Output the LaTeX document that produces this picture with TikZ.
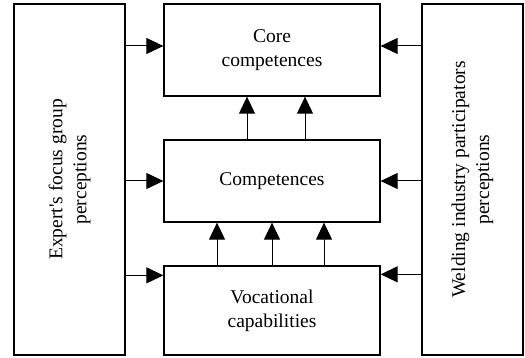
\documentclass[tikz,border=0pt]{standalone}
\usepackage{fontspec}
\setmainfont{Liberation Serif}
\usetikzlibrary{positioning,arrows.meta}

\begin{document}
\begin{tikzpicture}[x=1pt, y=-1pt,
  every node/.style={font=\fontsize{19.5}{24}\selectfont},
  box/.style={draw, line width=1.3pt, align=center, inner sep=0pt},
  arr/.style={line width=1pt, -{Triangle[length=17pt,width=16pt]}}]
  %----- page size (pixel grid, y down) -----
  \useasboundingbox (0,0) rectangle (525,358);

  %----- side boxes -----
  \node[box, minimum width=111pt, minimum height=351pt,
        label={[rotate=90, align=center]center:{Expert\textquotesingle s focus group\\perceptions}}]
        (expert) at (69.5,179.5) {};
  \node[box, minimum width=101pt, minimum height=351pt,
        label={[rotate=90, align=center]center:{Welding industry participators\\perceptions}}]
        (weld) at (472.5,179.5) {};

  %----- middle column -----
  \node[box, minimum width=216pt, minimum height=92pt] (core) at (272,50)    {Core\\competences};
  \node[box, minimum width=216pt, minimum height=82pt] (comp) at (272,181)   {Competences};
  \node[box, minimum width=216pt, minimum height=89pt] (voc)  at (272,310.5) {Vocational\\capabilities};

  %----- arrows from the left -----
  \draw[arr] ([yshift=4pt]core.west -| expert.east) -- ([yshift=4pt]core.west);
  \draw[arr] (comp.west -| expert.east) -- (comp.west);
  \draw[arr] ([yshift=-10pt]voc.north west -| expert.east) -- ([yshift=-10pt]voc.north west);

  %----- arrows from the right -----
  \draw[arr] ([yshift=4pt]core.east -| weld.west) -- ([yshift=4pt]core.east);
  \draw[arr] (comp.east -| weld.west) -- (comp.east);
  \draw[arr] ([yshift=-9pt]voc.north east -| weld.west) -- ([yshift=-9pt]voc.north east);

  %----- upward arrows -----
  \foreach \dx in {-25,33}
    \draw[arr] ([xshift=\dx pt]comp.north) -- ([xshift=\dx pt]core.south);
  \foreach \dx in {-55,0,52}
    \draw[arr] ([xshift=\dx pt]voc.north) -- ([xshift=\dx pt]comp.south);
\end{tikzpicture}
\end{document}
